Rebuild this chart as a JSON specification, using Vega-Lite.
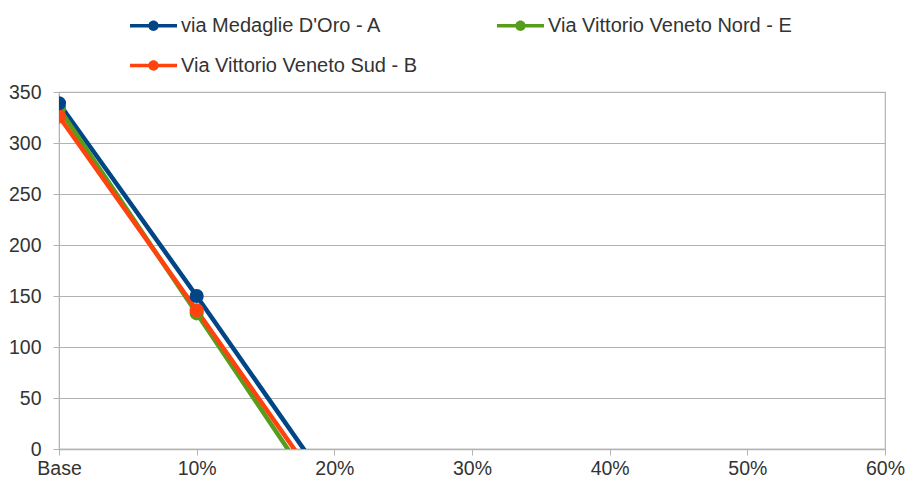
{
  "$schema": "https://vega.github.io/schema/vega-lite/v6.json",
  "width": 826,
  "height": 357,
  "autosize": {"type": "none"},
  "padding": {"left": 59, "top": 92, "right": 23, "bottom": 35},
  "background": "#ffffff",
  "config": {
    "font": "Liberation Sans",
    "view": {"stroke": "#b3b3b3", "strokeWidth": 1.2}
  },
  "data": {
    "values": [
      {"serie": "via Medaglie D'Oro - A", "scenario": "Base", "valore": 339},
      {"serie": "via Medaglie D'Oro - A", "scenario": "10%", "valore": 150},
      {"serie": "via Medaglie D'Oro - A", "scenario": "20%", "valore": -43},
      {"serie": "Via Vittorio Veneto Nord - E", "scenario": "Base", "valore": 334},
      {"serie": "Via Vittorio Veneto Nord - E", "scenario": "10%", "valore": 133},
      {"serie": "Via Vittorio Veneto Nord - E", "scenario": "20%", "valore": -68},
      {"serie": "Via Vittorio Veneto Sud - B", "scenario": "Base", "valore": 326},
      {"serie": "Via Vittorio Veneto Sud - B", "scenario": "10%", "valore": 136},
      {"serie": "Via Vittorio Veneto Sud - B", "scenario": "20%", "valore": -56}
    ]
  },
  "encoding": {
    "x": {
      "field": "scenario",
      "type": "ordinal",
      "sort": null,
      "scale": {"type": "point", "padding": 0, "domain": ["Base", "10%", "20%", "30%", "40%", "50%", "60%"]},
      "axis": {
        "title": null,
        "labelAngle": 0,
        "labelFontSize": 19.5,
        "labelColor": "#333333",
        "labelPadding": 4,
        "tickColor": "#b3b3b3",
        "tickSize": 6,
        "domainColor": "#b3b3b3",
        "domainWidth": 1.5,
        "grid": false
      }
    },
    "y": {
      "field": "valore",
      "type": "quantitative",
      "scale": {"domain": [0, 350], "nice": false, "zero": false},
      "axis": {
        "title": null,
        "values": [0, 50, 100, 150, 200, 250, 300, 350],
        "labelFontSize": 19.5,
        "labelColor": "#333333",
        "labelPadding": 12,
        "tickColor": "#b3b3b3",
        "tickSize": 6,
        "gridColor": "#b3b3b3",
        "gridWidth": 1,
        "domainColor": "#b3b3b3"
      }
    },
    "color": {
      "field": "serie",
      "type": "nominal",
      "scale": {
        "domain": ["via Medaglie D'Oro - A", "Via Vittorio Veneto Nord - E", "Via Vittorio Veneto Sud - B"],
        "range": ["#004586", "#579d1c", "#ff420e"]
      },
      "legend": {
        "title": null,
        "orient": "none",
        "legendX": 71,
        "legendY": -90,
        "direction": "horizontal",
        "columns": 2,
        "columnPadding": 79,
        "rowPadding": 6,
        "symbolType": "M-1,-0.075L1,-0.075L1,0.075L-1,0.075Z M0.22,0A0.22,0.22,0,1,1,-0.22,0A0.22,0.22,0,1,1,0.22,0Z",
        "symbolSize": 2209,
        "symbolStrokeWidth": 0,
        "symbolOpacity": 1,
        "labelFontSize": 20,
        "labelColor": "#333333",
        "labelOffset": 4,
        "labelLimit": 400
      }
    },
    "order": {"field": "serie", "type": "nominal"}
  },
  "layer": [
    {
      "mark": {"type": "line", "strokeWidth": 4.5, "clip": true}
    },
    {
      "mark": {"type": "point", "filled": true, "size": 200, "opacity": 1, "clip": true}
    }
  ]
}
